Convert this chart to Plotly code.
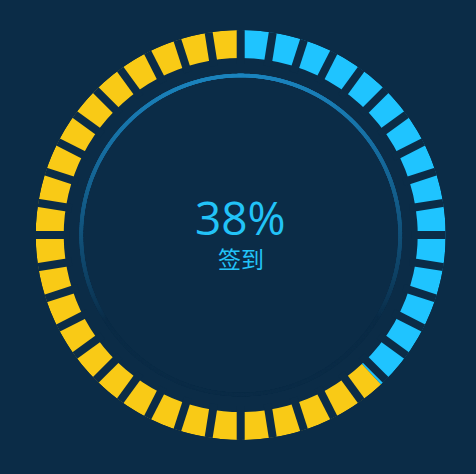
import numpy as np
import plotly.graph_objects as go

# ---- data ----
labels = ["签到", "未签到"]
values = [38, 62]              # percent
segment_count = 40             # number of blocks in the ring
title_text = "签到"

# ---- styles ----
BG = "rgb(11,44,71)"
BG_RGB = (11, 44, 71)
COLORS = ["rgb(31,196,255)", "rgb(249,202,22)"]
ARC_RGB = (28, 132, 190)
TEXT_COLOR = "rgb(34,195,247)"

R_OUT, R_IN = 205, 177
R_ARC = 159.5

fig = go.Figure()

# ring split by value
total = sum(values)
widths = [v / total * 360 for v in values]
starts = np.cumsum([0] + widths[:-1])
centers = [s + w / 2 for s, w in zip(starts, widths)]
fig.add_trace(go.Barpolar(
    r=[R_OUT - R_IN] * len(values),
    base=[R_IN] * len(values),
    theta=centers,
    width=widths,
    marker=dict(color=COLORS, line=dict(width=0)),
    hoverinfo="skip",
    showlegend=False,
))

# radial gaps between blocks
gr, gt = [], []
for k in range(segment_count):
    t = k * 360 / segment_count
    gr += [R_IN - 6, R_OUT + 6, None]
    gt += [t, t, None]
fig.add_trace(go.Scatterpolar(
    r=gr, theta=gt, mode="lines",
    line=dict(color=BG, width=8),
    hoverinfo="skip", showlegend=False,
))

# inner thin arc with vertical fade (top opaque -> transparent toward bottom)
th = np.linspace(0, 360, 1800, endpoint=False)
frac = (1 - np.cos(np.radians(th))) / 2
a = np.clip(1 - frac / 0.76, 0, 1) ** 0.8
cols = [
    "rgb(%d,%d,%d)" % tuple(int(round(BG_RGB[i] + ai * (ARC_RGB[i] - BG_RGB[i]))) for i in range(3))
    for ai in a
]
fig.add_trace(go.Scatterpolar(
    r=[R_ARC] * len(th), theta=th, mode="markers",
    marker=dict(color=cols, size=3.8, line=dict(width=0)),
    hoverinfo="skip", showlegend=False,
))

W, H = 476, 474
cx, cy = 240.7, 235.0
fig.update_layout(
    width=W, height=H,
    margin=dict(l=0, r=0, t=0, b=0),
    paper_bgcolor=BG,
    plot_bgcolor=BG,
    polar=dict(
        bgcolor=BG,
        domain=dict(
            x=[(cx - R_OUT) / W, (cx + R_OUT) / W],
            y=[(H - cy - R_OUT) / H, (H - cy + R_OUT) / H],
        ),
        radialaxis=dict(visible=False, range=[0, R_OUT], showgrid=False),
        angularaxis=dict(visible=False, rotation=90, direction="clockwise",
                         showgrid=False, showline=False),
    ),
    showlegend=False,
    annotations=[
        dict(text="%d%%" % values[0], x=cx / W, y=(H - 217) / H, xref="paper", yref="paper",
             showarrow=False, xanchor="center", yanchor="middle",
             font=dict(family="Open Sans", size=46, color=TEXT_COLOR)),
        dict(text=title_text, x=cx / W, y=(H - 258) / H, xref="paper", yref="paper",
             showarrow=False, xanchor="center", yanchor="middle",
             font=dict(family="Noto Sans CJK SC", size=23, color=TEXT_COLOR)),
    ],
)

fig.write_html("out.html")
